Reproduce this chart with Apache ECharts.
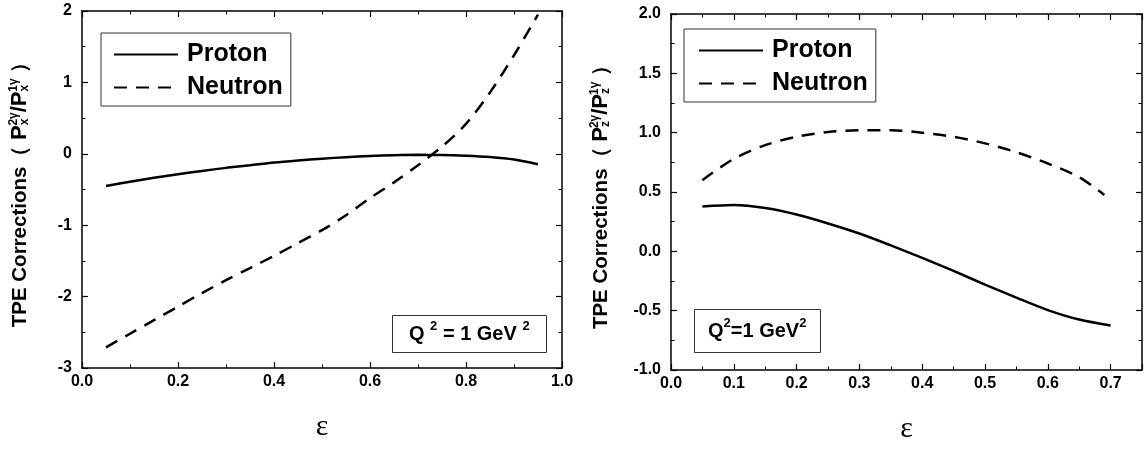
<!DOCTYPE html>
<html><head><meta charset="utf-8">
<script src="https://cdn.jsdelivr.net/npm/echarts@6/dist/echarts.min.js"></script>
<style>html,body{margin:0;padding:0;background:#fff}#c{width:1145px;height:450px}</style>
</head><body><div id="c"></div>
<script>
// ---- data ----
const epsLeft = [0.05,0.10,0.15,0.20,0.25,0.30,0.35,0.40,0.45,0.50,0.55,0.60,0.65,0.70,0.75,0.80,0.85,0.90,0.95];
const protonLeft = [-0.45,-0.39,-0.335,-0.285,-0.24,-0.197,-0.16,-0.122,-0.093,-0.068,-0.047,-0.03,-0.02,-0.015,-0.016,-0.026,-0.045,-0.08,-0.145];
const neutronLeft = [-2.71,-2.52,-2.33,-2.14,-1.95,-1.77,-1.60,-1.43,-1.25,-1.07,-0.86,-0.62,-0.40,-0.16,0.10,0.42,0.86,1.38,1.95];

const epsRightP = [0.05,0.10,0.15,0.20,0.25,0.30,0.35,0.40,0.45,0.50,0.55,0.60,0.65,0.70];
const protonRight = [0.377,0.39,0.365,0.31,0.235,0.15,0.05,-0.055,-0.165,-0.28,-0.39,-0.495,-0.575,-0.625];
const epsRightN = [0.05,0.10,0.15,0.20,0.25,0.30,0.35,0.40,0.45,0.50,0.55,0.60,0.65,0.69];
const neutronRight = [0.60,0.78,0.895,0.965,1.005,1.02,1.02,1.00,0.965,0.91,0.835,0.74,0.625,0.475];

const seriesNames = ['Proton','Neutron'];
const yNameLeft = 'TPE Corrections（ {P|P}{sb|x}{sp|2γ}{P|/P}{sb|x}{sp|1γ} ）';
const yNameRight = 'TPE Corrections（ {P|P}{sb|z}{sp|2γ}{P|/P}{sb|z}{sp|1γ} ）';
const xName = 'ε';
const qLeft = 'Q {s|2} = 1 GeV {s|2}';
const qRight = 'Q{s|2}=1 GeV{s|2}';

// ---- chart ----
const FONT = '"Liberation Sans", Arial, sans-serif';
const BLACK = '#000';
const chart = echarts.init(document.getElementById('c'));

const pairs = (xs, ys) => xs.map((x, i) => [x, ys[i]]);
const nameRich = {
  P: {fontSize: 22, fontWeight: 'bold', fontFamily: FONT, color: BLACK},
  sb: {fontSize: 12, fontWeight: 'bold', fontFamily: FONT, color: BLACK, padding: [10, 0, 0, 0]},
  sp: {fontSize: 12, fontWeight: 'bold', fontFamily: FONT, color: BLACK, padding: [0, 0, 12, -7]}
};
const tickCommon = {
  axisLine: {show: true, onZero: false, lineStyle: {color: BLACK, width: 1.5}},
  axisTick: {show: true, inside: true, length: 6, lineStyle: {color: BLACK, width: 1.2}},
  minorTick: {show: true, splitNumber: 2, length: 3.5, lineStyle: {color: BLACK, width: 1}},
  splitLine: {show: false},
  minorSplitLine: {show: false}
};
const labelStyle = {fontFamily: FONT, fontWeight: 'bold', fontSize: 16, color: BLACK};
const dec1 = v => (Math.abs(v * 10 - Math.round(v * 10)) < 1e-6) ? v.toFixed(1) : '';

function xAx(grid, min, max, interval, pos, showLabel) {
  return Object.assign({
    type: 'value', gridIndex: grid, position: pos, min, max, interval,
    axisLabel: {show: showLabel, margin: 6, formatter: dec1, ...labelStyle},
    name: showLabel ? xName : '', nameLocation: 'middle', nameGap: 44,
    nameTextStyle: {fontFamily: '"Liberation Serif", serif', fontSize: 30, color: BLACK}
  }, tickCommon);
}
function yAx(grid, min, max, interval, pos, showLabel, fmt, nm, gap) {
  return Object.assign({
    type: 'value', gridIndex: grid, position: pos, min, max, interval,
    axisLabel: {show: showLabel, margin: 10, formatter: fmt, ...labelStyle},
    name: showLabel ? nm : '', nameLocation: 'middle', nameGap: gap,
    nameTextStyle: {fontFamily: FONT, fontWeight: 'bold', fontSize: 20.5, color: BLACK, rich: nameRich}
  }, tickCommon);
}
const lineSeries = (name, data, xi, dashed) => ({
  type: 'line', name, data, xAxisIndex: xi, yAxisIndex: xi,
  symbol: 'none', smooth: 0.3, animation: false,
  lineStyle: {color: BLACK, width: 2.5, type: dashed ? [13, 9] : 'solid'},
  itemStyle: {color: BLACK}
});
const legendCommon = {
  orient: 'vertical', data: seriesNames,
  borderColor: '#333', borderWidth: 1,
  itemWidth: 64, itemHeight: 14, itemGap: 8,
  itemStyle: {opacity: 0, borderWidth: 0},
  textStyle: {fontFamily: FONT, fontWeight: 'bold', fontSize: 25, color: BLACK, padding: [0, 0, 0, 4]},
  selectedMode: false
};
const qTitle = (text, left, top, padding) => ({
  text, left, top, padding, borderColor: '#333', borderWidth: 1,
  textStyle: {fontFamily: FONT, fontWeight: 'bold', fontSize: 20, color: BLACK, lineHeight: 22,
    rich: {s: {fontFamily: FONT, fontWeight: 'bold', fontSize: 13, lineHeight: 13, color: BLACK, padding: [0, 0, 16, 0]}}}
});

chart.setOption({
  backgroundColor: '#fff',
  animation: false,
  grid: [
    {left: 82, right: 583, top: 11, bottom: 82},
    {left: 671, right: -2, top: 14, bottom: 80}
  ],
  xAxis: [
    xAx(0, 0, 1, 0.2, 'bottom', true),
    xAx(0, 0, 1, 0.2, 'top', false),
    xAx(1, 0, 0.75, 0.1, 'bottom', true),
    xAx(1, 0, 0.75, 0.1, 'top', false)
  ],
  yAxis: [
    yAx(0, -3, 2, 1, 'left', true, v => String(v), yNameLeft, 50),
    yAx(0, -3, 2, 1, 'right', false, null, '', 0),
    yAx(1, -1, 2, 0.5, 'left', true, v => v.toFixed(1), yNameRight, 58),
    yAx(1, -1, 2, 0.5, 'right', false, null, '', 0)
  ],
  legend: [
    Object.assign({left: 101, top: 33, padding: [9, 8, 6, 12]}, legendCommon),
    Object.assign({left: 684, top: 29, padding: [9, 8, 6, 14]}, legendCommon)
  ],
  title: [
    qTitle(qLeft, 392, 319, [4, 17, 4, 17]),
    qTitle(qRight, 694, 313, [7, 14, 7, 14])
  ],
  series: [
    lineSeries('Proton', pairs(epsLeft, protonLeft), 0, false),
    lineSeries('Neutron', pairs(epsLeft, neutronLeft), 0, true),
    lineSeries('Proton', pairs(epsRightP, protonRight), 2, false),
    lineSeries('Neutron', pairs(epsRightN, neutronRight), 2, true)
  ]
});
</script></body></html>
